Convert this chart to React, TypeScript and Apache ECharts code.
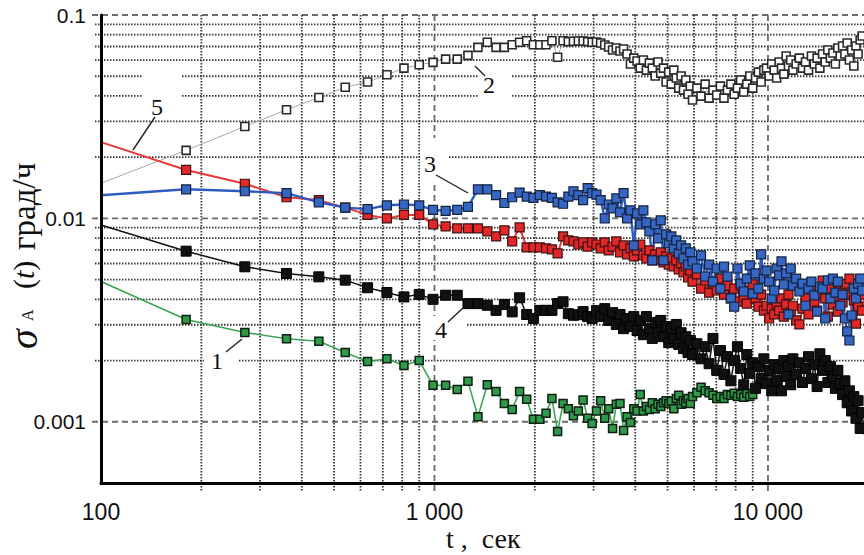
import React, { useEffect, useRef } from 'react';
import * as echarts from 'echarts';

// sample times (s); the first one (100 s) is only the start of each curve, drawn without a marker
const times = [100,
  180, 270, 360, 450, 540, 630, 720, 810, 900, 990, 1080, 1170, 1260, 1350, 1440, 1530,
  1620, 1710, 1800, 1890, 1980, 2070, 2160, 2250, 2340, 2430, 2520, 2610, 2700, 2790, 2880, 2970,
  3060, 3150, 3240, 3330, 3420, 3510, 3600, 3690, 3780, 3870, 3960, 4050, 4140, 4230, 4320, 4410, 4500,
  4590, 4680, 4770, 4860, 4950, 5040, 5130, 5220, 5310, 5400, 5490, 5580, 5670, 5760, 5850, 5940,
  6120, 6300, 6480, 6660, 6840, 7020, 7200, 7380, 7560, 7740, 7920, 8100, 8280, 8460, 8640, 8820, 9000,
  9180, 9360, 9540, 9720, 9900, 10080, 10260, 10440, 10620, 10800, 10980, 11160, 11340, 11520, 11700, 11880,
  12150, 12420, 12690, 12960, 13230, 13500, 13770, 14040, 14310, 14580, 14850, 15120, 15390, 15660,
  15930, 16200, 16470, 16740, 17010, 17280, 17550, 17820, 18090, 18360, 18630, 18900, 19170, 19440];

// curve 2 (grey, open squares)
const curve2 = [0.0149,
  0.0216, 0.0283, 0.0342, 0.0393, 0.0441, 0.0468, 0.0508, 0.0548, 0.0569, 0.0585, 0.0607, 0.0607, 0.0633, 0.0693, 0.0734, 0.0693,
  0.0693, 0.0714, 0.0734, 0.0747, 0.0714, 0.0714, 0.0714, 0.0747, 0.0620, 0.0747, 0.0740, 0.0743, 0.0745, 0.0745, 0.0740, 0.0735,
  0.0737, 0.0728, 0.0712, 0.0696, 0.0673, 0.0688, 0.0665, 0.0681, 0.0643, 0.0574, 0.0614, 0.0594, 0.0548, 0.0601, 0.0536, 0.0580, 0.0548,
  0.0501, 0.0587, 0.0518, 0.0548, 0.0468, 0.0524, 0.0457, 0.0536, 0.0490, 0.0437, 0.0501, 0.0427, 0.0479, 0.0408, 0.0447, 0.0382,
  0.0437, 0.0399, 0.0457, 0.0390, 0.0427, 0.0404, 0.0447, 0.0390, 0.0427, 0.0457, 0.0408, 0.0437, 0.0479, 0.0418, 0.0457, 0.0501, 0.0437,
  0.0490, 0.0524, 0.0468, 0.0536, 0.0548, 0.0501, 0.0574, 0.0536, 0.0490, 0.0587, 0.0548, 0.0512, 0.0629, 0.0561, 0.0601, 0.0536,
  0.0574, 0.0614, 0.0548, 0.0587, 0.0536, 0.0629, 0.0574, 0.0614, 0.0548, 0.0643, 0.0587, 0.0673, 0.0614, 0.0650,
  0.0574, 0.0688, 0.0629, 0.0704, 0.0643, 0.0728, 0.0601, 0.0673, 0.0561, 0.0704, 0.0643, 0.0753, 0.0788, 0.0720];

// curve 5 (red)
const curve5 = [0.0237,
  0.0173, 0.0148, 0.0127, 0.0123, 0.0113, 0.0104, 0.0100, 0.0104, 0.0104, 0.00934, 0.00913, 0.00893, 0.00893, 0.00893, 0.00863, 0.00815,
  0.00873, 0.00770, 0.00903, 0.00720, 0.00720, 0.00720, 0.00712, 0.00704, 0.00673, 0.00815, 0.00779, 0.00770, 0.00744, 0.00762, 0.00727, 0.00762,
  0.00744, 0.00712, 0.00762, 0.00696, 0.00727, 0.00770, 0.00681, 0.00736, 0.00666, 0.00712, 0.00650, 0.00696, 0.00744, 0.00658, 0.00635, 0.00696, 0.00621,
  0.00666, 0.00628, 0.00681, 0.00607, 0.00650, 0.00593, 0.00635, 0.00580, 0.00621, 0.00561, 0.00600, 0.00542, 0.00580, 0.00512, 0.00554, 0.00489,
  0.00530, 0.00452, 0.00495, 0.00432, 0.00478, 0.00442, 0.00506, 0.00422, 0.00467, 0.00404, 0.00452, 0.00390, 0.00467, 0.00413, 0.00381, 0.00442, 0.00473,
  0.00404, 0.00368, 0.00422, 0.00352, 0.00372, 0.00322, 0.00360, 0.00337, 0.00381, 0.00352, 0.00404, 0.00329, 0.00377, 0.00422, 0.00344, 0.00372,
  0.00315, 0.00301, 0.00360, 0.00404, 0.00337, 0.00452, 0.00381, 0.00352, 0.00427, 0.00495, 0.00404, 0.00329, 0.00452, 0.00377,
  0.00413, 0.00348, 0.00452, 0.00386, 0.00478, 0.00422, 0.00506, 0.00329, 0.00395, 0.00304, 0.00368, 0.00422, 0.00352, 0.00404];

// curve 3 (blue)
const curve3 = [0.0130,
  0.0139, 0.0136, 0.0133, 0.0120, 0.0113, 0.0111, 0.0116, 0.0117, 0.0116, 0.0110, 0.0109, 0.0110, 0.0114, 0.0139, 0.0139, 0.0130,
  0.0119, 0.0127, 0.0134, 0.0128, 0.0126, 0.0130, 0.0128, 0.0126, 0.0120, 0.0118, 0.0128, 0.0136, 0.0130, 0.0123, 0.0141, 0.0133,
  0.0131, 0.0123, 0.0100, 0.0117, 0.0112, 0.01255, 0.0107, 0.0133, 0.0100, 0.01095, 0.00736, 0.01058, 0.00934, 0.01095, 0.00955, 0.00863, 0.00621,
  0.00934, 0.00797, 0.00978, 0.00621, 0.00834, 0.00753, 0.00815, 0.00712, 0.00779, 0.00673, 0.00736, 0.00635, 0.00712, 0.00593, 0.00681, 0.00614,
  0.00567, 0.00658, 0.00518, 0.00593, 0.00489, 0.00567, 0.00452, 0.00580, 0.00518, 0.00404, 0.00368, 0.00567, 0.00478, 0.00437, 0.00506, 0.00587, 0.00427,
  0.00536, 0.00452, 0.00666, 0.00506, 0.00554, 0.00489, 0.00404, 0.00442, 0.00567, 0.00524, 0.00614, 0.00473, 0.00536, 0.00337, 0.00567, 0.00467,
  0.00506, 0.00437, 0.00478, 0.00372, 0.00452, 0.00489, 0.00418, 0.00348, 0.00462, 0.00452, 0.00322, 0.00495, 0.00404, 0.00506,
  0.00432, 0.00489, 0.00372, 0.00422, 0.00322, 0.00278, 0.00251, 0.00333, 0.00452, 0.00404, 0.00478, 0.00506, 0.00442, 0.00536];

// curve 4 (black)
const curve4 = [0.00927,
  0.00690, 0.00578, 0.00536, 0.00516, 0.00497, 0.00456, 0.00432, 0.00411, 0.00423, 0.00400, 0.00419, 0.00419, 0.00381, 0.00381, 0.00374, 0.00353,
  0.00377, 0.00347, 0.00407, 0.00337, 0.00322, 0.00353, 0.00353, 0.00353, 0.00381, 0.00389, 0.00340, 0.00334, 0.00336, 0.00348, 0.00329, 0.00322,
  0.00352, 0.00329, 0.00360, 0.00315, 0.00344, 0.00301, 0.00337, 0.00287, 0.00322, 0.00294, 0.00329, 0.00281, 0.00315, 0.00268, 0.00329, 0.00287, 0.00257,
  0.00308, 0.00274, 0.00315, 0.00262, 0.00294, 0.00245, 0.00287, 0.00257, 0.00301, 0.00240, 0.00274, 0.00229, 0.00262, 0.00219, 0.00251, 0.00214,
  0.00242, 0.00204, 0.00234, 0.00193, 0.00257, 0.00179, 0.00224, 0.00171, 0.00209, 0.00159, 0.00200, 0.00234, 0.00183, 0.00152, 0.00214, 0.00173, 0.00195,
  0.00146, 0.00187, 0.00163, 0.00204, 0.00154, 0.00179, 0.00142, 0.00191, 0.00159, 0.00183, 0.00142, 0.00200, 0.00167, 0.00187, 0.00152, 0.00204,
  0.00171, 0.00195, 0.00156, 0.00183, 0.00209, 0.00163, 0.00191, 0.00149, 0.00216, 0.00179, 0.00200, 0.00156, 0.00187, 0.00167,
  0.00146, 0.00179, 0.00154, 0.00136, 0.00159, 0.00124, 0.00142, 0.00113, 0.00133, 0.00104, 0.00127, 0.000927, 0.00111, 0.000866];

// curve 1 (green) – visible up to ~9000 s, further on hidden under curve 4
const curve1 = [0.0049,
  0.00318, 0.00275, 0.00256, 0.00249, 0.00219, 0.00198, 0.00204, 0.00189, 0.00200, 0.00151, 0.00151, 0.00144, 0.00158, 0.00106, 0.00152, 0.00141,
  0.00123, 0.00115, 0.00141, 0.00129, 0.00103, 0.00103, 0.00110, 0.00130, 0.000895, 0.00123, 0.00116, 0.00107, 0.00113, 0.00128, 0.00104, 0.000981,
  0.00113, 0.00127, 0.00104, 0.00116, 0.000927, 0.00122, 0.00123, 0.000906, 0.00106, 0.000991, 0.00116, 0.00113, 0.00136, 0.00113, 0.00119, 0.00115, 0.00124,
  0.00116, 0.00122, 0.00119, 0.00124, 0.00127, 0.00123, 0.00126, 0.00116, 0.00130, 0.00135, 0.00122, 0.00127, 0.00124, 0.00130, 0.00123, 0.00133,
  0.00139, 0.00148, 0.00142, 0.00139, 0.00135, 0.00130, 0.00133, 0.00130, 0.00136, 0.00135, 0.00138, 0.00133, 0.00136, 0.00132, 0.00138, 0.00133, 0.00136];

// axes
const xMin = 100;
const xMax = 19408;
const yMin = 0.0005;
const yMax = 0.1;
const xTickLabels: [number, string][] = [[100, '100'], [1000, '1 000'], [10000, '10 000']];
const yTickLabels: [number, string][] = [[0.1, '0.1'], [0.01, '0.01'], [0.001, '0.001']];
const xMajorGrid = [1000, 10000];
const xMinorGrid = [200, 300, 400, 500, 600, 700, 800, 900, 2000, 3000, 4000, 5000, 6000, 7000, 8000, 9000];
const yMajorGrid = [0.1, 0.01, 0.001];
const yMinorGrid = [0.02, 0.03, 0.04, 0.05, 0.06, 0.07, 0.08, 0.09, 0.002, 0.003, 0.004, 0.005, 0.006, 0.007, 0.008, 0.009];

const findLabel = (list: [number, string][], v: number) => {
  for (const [t, s] of list) {
    if (Math.abs(Math.log10(v) - Math.log10(t)) < 1e-6) return s;
  }
  return '';
};

const serif = '"Liberation Serif", "Times New Roman", serif';
const sans = '"Liberation Sans", Arial, sans-serif';

function makeSeries(vals: number[], color: string, border: string, lineColor: string, lineWidth: number, size: number, borderWidth: number) {
  return {
    type: 'line',
    data: vals.map((v, i) => (i === 0 ? { value: [times[i], v], symbol: 'none' } : [times[i], v])),
    symbol: 'rect',
    symbolSize: size,
    showAllSymbol: true,
    clip: true,
    silent: true,
    z: 3,
    itemStyle: { color, borderColor: border, borderWidth },
    lineStyle: { color: lineColor, width: lineWidth },
    emphasis: { disabled: true },
  };
}

function gridSeries(horizontal: boolean) {
  const data = horizontal
    ? [...yMajorGrid.map((v) => [xMin, v, 1]), ...yMinorGrid.map((v) => [xMin, v, 0])]
    : [...xMajorGrid.map((v) => [v, yMin, 1]), ...xMinorGrid.map((v) => [v, yMin, 0])];
  return {
    type: 'custom',
    silent: true,
    clip: false,
    z: 1,
    data,
    renderItem: (params: any, api: any) => {
      const cs = params.coordSys;
      const major = api.value(2) === 1;
      let shape;
      if (horizontal) {
        const y = api.coord([xMin, api.value(1)])[1];
        shape = { x1: cs.x - (major ? 9 : 6), y1: y, x2: cs.x + cs.width, y2: y };
      } else {
        const x = api.coord([api.value(0), yMin])[0];
        shape = { x1: x, y1: cs.y, x2: x, y2: cs.y + cs.height + 8 };
      }
      return {
        type: 'line',
        shape,
        style: {
          stroke: major ? '#6a6a6a' : '#383838',
          lineWidth: 1.8,
          lineDash: major ? [6, 4] : [1.5, 1.5],
        },
      };
    },
  };
}

const labelBox = (x: number, y: number, w: number, h: number) => ({
  type: 'rect', z: 2, silent: true, shape: { x, y, width: w, height: h }, style: { fill: '#fff' },
});
const labelText = (x: number, y: number, text: string) => ({
  type: 'text', z: 20, silent: true, x, y,
  style: { text, font: `24px ${serif}`, fill: '#111', align: 'center', verticalAlign: 'middle' },
});
const leader = (x1: number, y1: number, x2: number, y2: number) => ({
  type: 'line', z: 20, silent: true, shape: { x1, y1, x2, y2 }, style: { stroke: '#222', lineWidth: 1.4 },
});

export default function App() {
  const ref = useRef<HTMLDivElement>(null);
  useEffect(() => {
    const chart = echarts.init(ref.current!, null, { renderer: 'svg' });
    chart.setOption({
      animation: false,
      backgroundColor: '#fff',
      grid: { left: 101, top: 15, right: 0, bottom: 72, containLabel: false },
      xAxis: {
        type: 'log', logBase: 10, min: xMin, max: xMax, z: 5,
        axisLine: { show: true, onZero: false, lineStyle: { color: '#000', width: 3 } },
        axisTick: { show: false },
        splitLine: { show: false },
        minorTick: { show: false },
        axisLabel: {
          formatter: (v: number) => findLabel(xTickLabels, v),
          fontSize: 23, color: '#111', margin: 17, fontFamily: sans, showMaxLabel: false,
        },
      },
      yAxis: {
        type: 'log', logBase: 10, min: yMin, max: yMax, z: 5,
        axisLine: { show: true, onZero: false, lineStyle: { color: '#000', width: 3 } },
        axisTick: { show: false },
        splitLine: { show: false },
        axisLabel: {
          formatter: (v: number) => findLabel(yTickLabels, v),
          fontSize: 21, color: '#111', margin: 15, fontFamily: sans, showMinLabel: false,
        },
      },
      series: [
        gridSeries(true),
        gridSeries(false),
        makeSeries(curve2, '#ffffff', '#2a2a2a', '#a8a8a8', 1, 8, 1.6),
        makeSeries(curve1, '#2e9a4a', '#0c1f10', '#3aa655', 1.6, 8, 1.5),
        makeSeries(curve5, '#e42626', '#3a1212', '#e83a3a', 2, 9, 1.2),
        makeSeries(curve3, '#3566c4', '#14223d', '#2f5cc0', 2.4, 9, 1.2),
        makeSeries(curve4, '#111111', '#000000', '#111111', 1.5, 10, 1),
      ],
      graphic: [
        labelBox(143, 70, 39, 34),
        labelBox(478, 72, 34, 30),
        labelBox(420, 138, 28, 47),
        labelBox(422, 316, 44, 24),
        labelBox(204, 350, 34, 22),
        labelText(157, 107, '5'),
        labelText(489, 85, '2'),
        labelText(430, 164, '3'),
        labelText(441, 330, '4'),
        labelText(217, 361, '1'),
        leader(155, 117, 133, 150),
        leader(475, 66, 485, 76),
        leader(436, 175, 468, 193),
        leader(448, 322, 463, 308),
        leader(226, 352, 242, 339),
        {
          type: 'group', x: 23, y: 350, rotation: Math.PI / 2, silent: true,
          children: [
            { type: 'text', x: 1, y: 0, style: { text: 'σ', font: `italic 40px ${serif}`, fill: '#111', align: 'left', verticalAlign: 'middle' } },
            { type: 'text', x: 29, y: 4, style: { text: 'A', font: `16px ${serif}`, fill: '#111', align: 'left', verticalAlign: 'middle' } },
            {
              type: 'text', x: 61, y: 0,
              style: {
                text: '{p|(}{i|t}{p|)}', fill: '#111', align: 'left', verticalAlign: 'middle',
                rich: { p: { font: `30px ${serif}`, fill: '#111' }, i: { font: `italic 30px ${serif}`, fill: '#111' } },
              },
            },
            { type: 'text', x: 100, y: 1, style: { text: 'град/ч', font: `33px ${serif}`, fill: '#111', align: 'left', verticalAlign: 'middle' } },
          ],
        },
        { type: 'text', x: 446, y: 524, silent: true, style: { text: 't ,  сек', font: `28px ${serif}`, fill: '#111' } },
      ],
    });
    return () => chart.dispose();
  }, []);
  return <div ref={ref} style={{ position: 'absolute', left: 0, top: 0, width: 864, height: 555, background: '#fff' }} />;
}
